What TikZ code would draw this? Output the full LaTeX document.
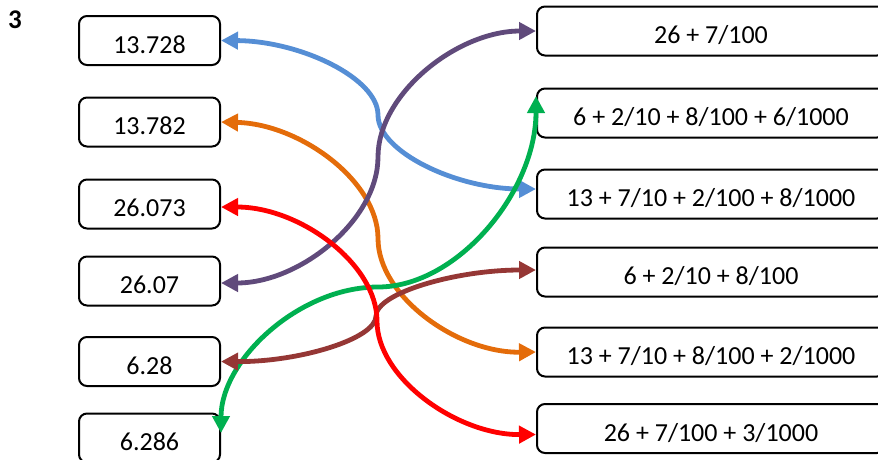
\documentclass[tikz,border=0pt]{standalone}
\usepackage{fontspec}
\setmainfont{Carlito}
\usetikzlibrary{arrows.meta,calc}
\definecolor{cblue}{RGB}{85,142,213}
\definecolor{cpurple}{RGB}{96,74,123}
\definecolor{corange}{RGB}{228,108,10}
\definecolor{cred}{RGB}{255,0,0}
\definecolor{cbrown}{RGB}{149,55,53}
\definecolor{cgreen}{RGB}{0,176,80}
\begin{document}
\begin{tikzpicture}[x=1pt,y=-1pt,
  box/.style={draw=black,line width=2pt,rounded corners=8pt,minimum height=49pt,
    font=\fontsize{26}{30}\selectfont,text height=25pt,text depth=0pt,inner sep=0pt,outer sep=1pt},
  lbox/.style={box,minimum width=141pt},
  rbox/.style={box,minimum width=348pt},
  link/.style={line width=4.8pt,{Triangle[length=17pt,width=17pt]}-{Triangle[length=17pt,width=17pt]}}
]
\useasboundingbox (0,0) rectangle (878,459);
\clip (0,0) rectangle (878,459);

\node[font=\fontsize{27}{30}\selectfont\bfseries,inner sep=0pt] (num) at (15,19.5) {3};

\node[lbox] (L1) at (149.5,40.5) {13.728};
\node[lbox] (L2) at (149.5,122) {13.782};
\node[lbox] (L3) at (149.5,204) {26.073};
\node[lbox] (L4) at (149.5,281) {26.07};
\node[lbox] (L5) at (149.5,361.5) {6.28};
\node[lbox] (L6) at (149.5,438) {6.286};

\node[rbox] (R1) at (711,31) {26 + 7/100};
\node[rbox] (R2) at (711,113) {6 + 2/10 + 8/100 + 6/1000};
\node[rbox] (R3) at (711,194) {13 + 7/10 + 2/100 + 8/1000};
\node[rbox] (R4) at (711,272) {6 + 2/10 + 8/100};
\node[rbox] (R5) at (711,352) {13 + 7/10 + 8/100 + 2/1000};
\node[rbox] (R6) at (711,428.5) {26 + 7/100 + 3/1000};

\coordinate (mblue) at (378,115);
\coordinate (mpurple) at (378,157);
\coordinate (morange) at (378,238.5);
\coordinate (mred) at (377,321);
\coordinate (mbrown) at (376,316);
\coordinate (mgreen) at (378,287);

\draw[link,cblue] (L1.east) .. controls (300,41) and (378,78) .. (mblue)
  .. controls (378,152) and (457,189) .. ($(R3.west)+(0,-5)$);
\draw[link,corange] (L2.east) .. controls (300,124) and (378,181) .. (morange)
  .. controls (378,296) and (457,353) .. (R5.west);
\draw[link,cgreen] ($(R2.west)+(0,-17)$) .. controls (536,192) and (457,287) .. (mgreen)
  .. controls (299,287) and (221,360) .. ($(L6.east)+(0,-5)$);
\draw[link,cbrown] (L5.east) .. controls (299,362) and (376,339) .. (mbrown)
  .. controls (376,293) and (456,270) .. ($(R4.west)+(0,-2)$);
\draw[link,cpurple] ($(L4.east)+(0,2)$) .. controls (300,283) and (378,220) .. (mpurple)
  .. controls (378,94) and (457,31) .. (R1.west);
\draw[link,cred] ($(L3.east)+(0,3)$) .. controls (300,207) and (377,264) .. (mred)
  .. controls (377,378) and (457,435) .. ($(R6.west)+(0,6)$);
\end{tikzpicture}
\end{document}
